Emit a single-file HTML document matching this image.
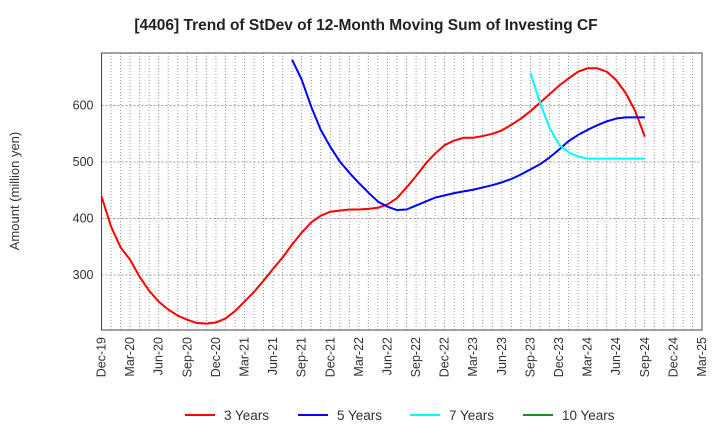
<!DOCTYPE html>
<html><head><meta charset="utf-8"><style>
body{margin:0;background:#fff;font-family:"Liberation Sans",Arial,sans-serif}
svg text{font-family:"Liberation Sans",Arial,sans-serif}
</style></head><body>
<svg id="chart" width="720" height="440" xmlns="http://www.w3.org/2000/svg">
<text x="366" y="30" text-anchor="middle" font-size="15.5" font-weight="bold" fill="#222">[4406]  Trend of StDev of 12-Month Moving Sum of Investing CF</text>
<text transform="translate(19,191) rotate(-90)" text-anchor="middle" font-size="13" fill="#333">Amount (million yen)</text>
<g id="grid"></g><g id="axes"></g><g id="series"></g><g id="legend"></g>
</svg>
<script>
const xLabels=["Dec-19","Mar-20","Jun-20","Sep-20","Dec-20","Mar-21","Jun-21","Sep-21","Dec-21","Mar-22","Jun-22","Sep-22","Dec-22","Mar-23","Jun-23","Sep-23","Dec-23","Mar-24","Jun-24","Sep-24","Dec-24","Mar-25"];
const yTicks=[300,400,500,600];
const seriesNames=["3 Years","5 Years","7 Years","10 Years"];
const seriesColors=["#ff0000","#0000ff","#00ffff","#228b22"];
const s3=[439,386,349,327,297,272,253,239,228,221,215,214,216,223,236,253,270,290,311,331,354,375,393,405,412,414,416,416,417,419,425,436,455,475,497,515,530,538,543,543,546,550,556,566,577,590,605,620,635,648,660,666,666,660,645,622,590,545];
const s5start=20;
const s5=[681,646,598,557,527,501,481,463,446,430,421,415,416,423,430,437,441,445,448,451,455,459,464,470,478,487,496,508,522,537,548,557,565,572,577,579,579,579];
const s7start=45;
const s7=[658,605,561,531,517,510,506,506,506,506,506,506,506];
const s10=[];
const NS="http://www.w3.org/2000/svg";
const L=101.5,R=702,T=53,B=330,YMIN=202.7,YMAX=693,NM=63;
const xs=i=>L+(R-L)*i/NM;
const ys=v=>B-(v-YMIN)/(YMAX-YMIN)*(B-T);
function mk(tag,attrs,parent){const e=document.createElementNS(NS,tag);for(const k in attrs)e.setAttribute(k,attrs[k]);parent.appendChild(e);return e;}
const grid=document.getElementById('grid'),axes=document.getElementById('axes'),ser=document.getElementById('series'),leg=document.getElementById('legend');
mk('rect',{x:L,y:T,width:R-L,height:B-T,fill:'#fff'},grid);
for(let m=1;m<NM;m++){const l=mk('line',{x1:xs(m),x2:xs(m),y1:T,y2:B,stroke:'#999','stroke-width':1,'stroke-dasharray':'1,2'},grid);

}
yTicks.forEach(v=>{const l=mk('line',{x1:L,x2:R,y1:ys(v),y2:ys(v),stroke:'#999','stroke-width':1,'stroke-dasharray':'2,2'},grid);


const t=mk('text',{x:L-8,y:ys(v)+4,'text-anchor':'end','font-size':12.5,fill:'#333'},axes);t.textContent=v;

});
const fr=mk('rect',{x:L,y:T,width:R-L,height:B-T,fill:'none',stroke:'#444','stroke-width':1},axes);


xLabels.forEach((s,i)=>{const x=xs(i*3);const t=mk('text',{transform:`translate(${x+4},337) rotate(-90)`,'text-anchor':'end','font-size':12.5,fill:'#333'},axes);t.textContent=s;

});
function line(data,start,color,name){if(!data.length)return;const p=mk('polyline',{points:data.map((v,i)=>xs(start+i)+','+ys(v)).join(' '),fill:'none',stroke:color,'stroke-width':2,'stroke-linejoin':'round'},ser);

}
line(s3,0,seriesColors[0],'line-3-years');
line(s5,s5start,seriesColors[1],'line-5-years');
line(s7,s7start,seriesColors[2],'line-7-years');
line(s10,0,seriesColors[3],'line-10-years');
const lx=[185,298,410,523];
seriesNames.forEach((n,i)=>{const g=mk('g',{},leg);


mk('line',{x1:lx[i],x2:lx[i]+30,y1:415,y2:415,stroke:seriesColors[i],'stroke-width':2},g);
const t=mk('text',{x:lx[i]+39,y:420,'font-size':13.5,fill:'#333'},g);t.textContent=n;});
</script>
</body></html>
